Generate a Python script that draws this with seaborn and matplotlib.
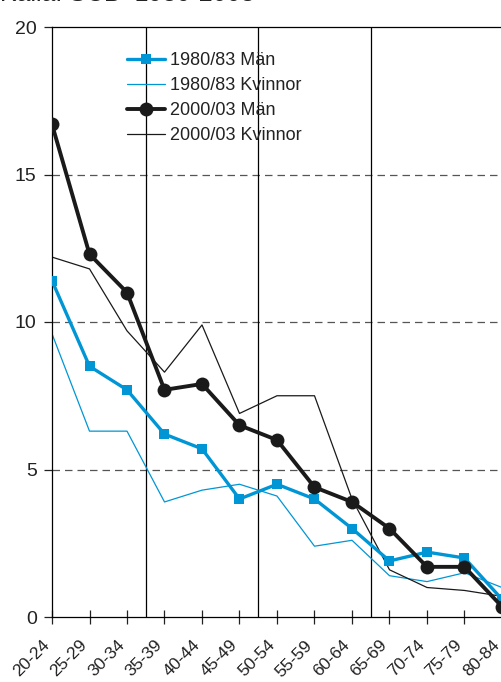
import seaborn as sns
import pandas as pd
import matplotlib.pyplot as plt
import matplotlib.transforms as mtransforms
import numpy as np

sns.set_theme(style="white")
plt.rcParams['font.family'] = ['Liberation Sans', 'DejaVu Sans']

ages = ["20-24", "25-29", "30-34", "35-39", "40-44", "45-49", "50-54",
        "55-59", "60-64", "65-69", "70-74", "75-79", "80-84"]
man_80 = [11.4, 8.5, 7.7, 6.2, 5.7, 4.0, 4.5, 4.0, 3.0, 1.9, 2.2, 2.0, 0.6]
kv_80 = [9.6, 6.3, 6.3, 3.9, 4.3, 4.5, 4.1, 2.4, 2.6, 1.4, 1.2, 1.5, 1.0]
man_00 = [16.7, 12.3, 11.0, 7.7, 7.9, 6.5, 6.0, 4.4, 3.9, 3.0, 1.7, 1.7, 0.35]
kv_00 = [12.2, 11.8, 9.7, 8.3, 9.9, 6.9, 7.5, 7.5, 4.0, 1.6, 1.0, 0.9, 0.7]

blue = "#0096d6"
pos = np.arange(len(ages))

fig = plt.figure(figsize=(5.02, 6.82), dpi=100)
ax = fig.add_axes([52/502, 1-617/682, 450/502, 590/682])

for y in [5, 10, 15]:
    ax.axhline(y, color="#555555", lw=0.9, ls=(0, (6, 4)), zorder=1)
for x in [2.5, 5.5, 8.5]:
    ax.axvline(x, color="black", lw=0.9, zorder=1)

sns.lineplot(x=pos, y=man_80, ax=ax, color=blue, lw=2.4, marker="s",
             markersize=7, markeredgewidth=0, label="1980/83 Män", zorder=3)
sns.lineplot(x=pos, y=kv_80, ax=ax, color=blue, lw=0.9,
             label="1980/83 Kvinnor", zorder=2)
sns.lineplot(x=pos, y=man_00, ax=ax, color="#1a1a1a", lw=2.8, marker="o",
             markersize=10, markeredgewidth=0, label="2000/03 Män", zorder=4)
sns.lineplot(x=pos, y=kv_00, ax=ax, color="#1a1a1a", lw=0.9,
             label="2000/03 Kvinnor", zorder=2)

ax.set_xlim(0, 12)
ax.set_ylim(0, 20)
ax.set_yticks([0, 5, 10, 15, 20])
ax.set_xticks(pos)
ax.set_xticklabels(ages, rotation=45, ha="right", rotation_mode="anchor")
ax.tick_params(axis="y", direction="out", length=6, width=0.9, labelsize=14,
               left=True, colors="#222222", pad=5)
ax.tick_params(axis="x", direction="inout", length=10, width=0.9, labelsize=12.5,
               bottom=True, colors="#222222", pad=4)
shift = mtransforms.ScaledTranslation(-10/100, -8/100, fig.dpi_scale_trans)
for lab in ax.get_xticklabels():
    lab.set_transform(lab.get_transform() + shift)
for s in ax.spines.values():
    s.set_color("black")
    s.set_linewidth(0.9)
ax.set_xlabel("")
ax.set_ylabel("")

leg = ax.legend(loc="upper left", bbox_to_anchor=(0.13, 0.985), frameon=False,
                fontsize=13, handlelength=2.1, handletextpad=0.3,
                labelspacing=0.45, markerscale=1.0)
for t in leg.get_texts():
    t.set_color("#222222")

# source line, mostly cut off at the top edge as in the original
fig.text(0.0, 1 - 1/682, "Källa: SCB  1980-2003", fontsize=18, color="#222222",
         ha="left", va="baseline")

fig.savefig("out.png", dpi=100)
